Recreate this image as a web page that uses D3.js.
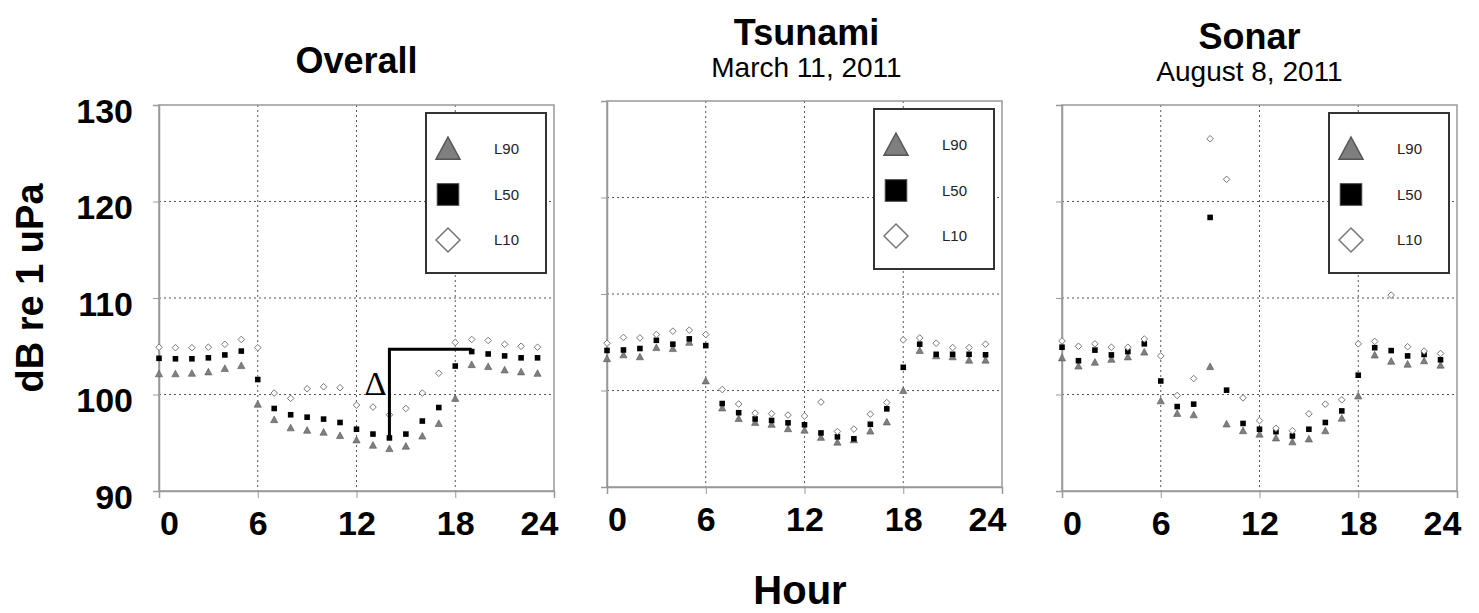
<!DOCTYPE html>
<html>
<head>
<meta charset="utf-8">
<script src="https://cdn.jsdelivr.net/npm/d3@7"></script>
<style>
  body { margin: 0; background: #fff; }
  text { font-family: "Liberation Sans", Arial, sans-serif; }
</style>
</head>
<body>
<div id="chart"></div>
<script>
var hours = [0,1,2,3,4,5,6,7,8,9,10,11,12,13,14,15,16,17,18,19,20,21,22,23];
var xTicks = [0, 6, 12, 18, 24];
var yTicks = [90, 100, 110, 120, 130];
var seriesNames = ["L90", "L50", "L10"];

// Overall
var overallL90 = [102.15,102.15,102.2,102.35,102.7,103.0,99.0,97.4,96.55,96.3,96.1,95.75,95.3,94.75,94.4,94.65,95.7,97.0,99.6,103.1,102.9,102.55,102.35,102.2];
var overallL50 = [103.75,103.7,103.7,103.8,104.1,104.5,101.55,98.55,97.9,97.65,97.45,97.1,96.4,95.9,95.5,95.9,97.25,98.65,102.95,104.45,104.2,104.0,103.8,103.8];
var overallL10 = [104.9,104.85,104.85,104.9,105.2,105.7,104.85,100.15,99.6,100.6,100.8,100.7,98.9,98.7,97.9,98.55,100.15,102.2,105.4,105.7,105.6,105.2,105.0,104.9];

// Tsunami, March 11, 2011
var tsunamiL90 = [103.3,103.7,103.5,104.45,104.35,105.0,101.0,98.2,97.1,96.7,96.5,96.05,95.9,95.15,94.65,94.9,95.8,96.75,100.0,104.15,103.6,103.5,103.15,103.15];
var tsunamiL50 = [104.15,104.2,104.35,105.2,104.8,105.35,104.65,98.65,97.7,97.05,96.9,96.65,96.45,95.6,95.2,95.0,96.5,98.1,102.4,104.8,103.75,103.75,103.75,103.7];
var tsunamiL10 = [104.9,105.5,105.45,105.8,106.15,106.25,105.8,100.1,98.6,97.65,97.6,97.45,97.35,98.8,95.75,96.0,97.55,98.75,105.25,105.45,104.9,104.45,104.45,104.8];

// Sonar, August 8, 2011
var sonarL90 = [103.8,102.95,103.35,103.65,103.9,104.4,99.35,98.05,97.9,102.9,96.95,96.25,95.9,95.5,95.1,95.4,96.25,97.55,99.85,104.1,103.45,103.15,103.5,103.05];
var sonarL50 = [104.9,103.5,104.6,104.1,104.45,105.25,101.4,98.75,99.0,118.35,100.45,97.0,96.4,96.15,95.7,96.4,97.1,98.3,102.0,104.85,104.55,104.0,104.15,103.6];
var sonarL10 = [105.55,105.0,105.25,104.9,104.9,105.75,104.0,99.9,101.65,126.5,122.3,99.65,97.3,96.5,96.25,98.0,99.0,99.45,105.25,105.5,110.3,104.95,104.5,104.25];

// delta annotation on the Overall panel
var deltaFrom = 14, deltaTo = 19, deltaLevel = 104.7;

var width = 1479, height = 613;
var plotW = 395, plotH = 386;

var panels = [
    {title: "Overall", sub: null, left: 159, top: 105, titleDx: 0, series: [overallL90, overallL50, overallL10]},
    {title: "Tsunami", sub: "March 11, 2011", left: 607, top: 101, titleDx: 2, series: [tsunamiL90, tsunamiL50, tsunamiL10]},
    {title: "Sonar", sub: "August 8, 2011", left: 1062, top: 105, titleDx: -10, series: [sonarL90, sonarL50, sonarL10]}
];

var triColor = "#7f7f7f";
var frameColor = "#999";
var gridColor = "#555";

var svg = d3.select("#chart").append("svg")
    .attr("width", width)
    .attr("height", height);

function marker(sel, type, s) {
    // s = half size
    if (type === "L90") {
        sel.append("path")
            .attr("d", "M0," + (-s) + "L" + s + "," + (s * 0.85) + "L" + (-s) + "," + (s * 0.85) + "Z")
            .attr("fill", triColor).attr("stroke", "#555").attr("stroke-width", s > 5 ? 1.5 : 0.6);
    } else if (type === "L50") {
        sel.append("rect")
            .attr("x", -s * 0.9).attr("y", -s * 0.9)
            .attr("width", s * 1.8).attr("height", s * 1.8)
            .attr("fill", "#000").attr("stroke", s > 5 ? "#444" : "none");
    } else {
        sel.append("path")
            .attr("d", "M0," + (-s) + "L" + s + ",0L0," + s + "L" + (-s) + ",0Z")
            .attr("fill", "#fff").attr("stroke", "#777").attr("stroke-width", s > 5 ? 1.5 : 1);
    }
}

panels.forEach(function (p, pi) {
    var x = d3.scaleLinear().domain([0, 24]).range([0, plotW]);
    var y = d3.scaleLinear().domain([90, 130]).range([plotH, 0]);

    var g = svg.append("g")
        .attr("transform", "translate(" + p.left + "," + p.top + ")");

    // grid
    g.selectAll(".hgrid")
        .data(yTicks.slice(1, -1))
        .enter().append("line")
        .attr("x1", 0).attr("x2", plotW)
        .attr("y1", d => y(d)).attr("y2", d => y(d))
        .attr("stroke", gridColor).attr("stroke-width", 1)
        .attr("stroke-dasharray", "2,3");
    g.selectAll(".vgrid")
        .data(xTicks.slice(1, -1))
        .enter().append("line")
        .attr("y1", 0).attr("y2", plotH)
        .attr("x1", d => x(d)).attr("x2", d => x(d))
        .attr("stroke", gridColor).attr("stroke-width", 1)
        .attr("stroke-dasharray", "2,3");

    // frame
    g.append("rect")
        .attr("width", plotW).attr("height", plotH)
        .attr("fill", "none").attr("stroke", frameColor).attr("stroke-width", 1.5);

    // axes
    var yAxis = d3.axisLeft(y).tickValues(yTicks).tickSize(6).tickFormat(d => pi === 0 ? d : "");
    var xAxis = d3.axisBottom(x).tickValues(xTicks).tickSize(7).tickPadding(13);

    var ya = g.append("g").call(yAxis);
    ya.select(".domain").attr("stroke", frameColor).attr("stroke-width", 1.5);
    ya.selectAll(".tick line").attr("stroke", frameColor);
    ya.selectAll("text")
        .style("font-size", "34px").style("font-weight", "bold")
        .attr("fill", "#000").attr("x", -26).attr("dy", "0.5em");

    var xa = g.append("g").attr("transform", "translate(0," + plotH + ")").call(xAxis);
    xa.select(".domain").attr("stroke", frameColor).attr("stroke-width", 1.5);
    xa.selectAll(".tick line").attr("stroke", frameColor);
    xa.selectAll("text")
        .style("font-size", "34px").style("font-weight", "bold")
        .attr("fill", "#000")
        .attr("dx", (d, i) => i === 0 ? 10 : (i === xTicks.length - 1 ? -15 : 0));

    // legend
    var lg = g.append("g").attr("transform", "translate(" + (plotW - 128) + ",8)");
    lg.append("rect").attr("width", 120).attr("height", 160)
        .attr("fill", "#fff").attr("stroke", "#333").attr("stroke-width", 2);
    seriesNames.forEach(function (name, i) {
        var row = lg.append("g").attr("transform", "translate(22," + (36 + i * 45.5) + ")");
        marker(row, name, 12);
        row.append("text").attr("x", 46).attr("dy", "0.35em")
            .style("font-size", "15px").attr("fill", "#222").text(name);
    });

    // points
    p.series.forEach(function (vals, si) {
        g.selectAll(".pt" + si)
            .data(vals)
            .enter().append("g")
            .attr("transform", (d, i) => "translate(" + x(hours[i]) + "," + y(d) + ")")
            .each(function () { marker(d3.select(this), seriesNames[si], si === 0 ? 3.6 : (si === 1 ? 3.1 : 3.3)); });
    });

    // delta annotation
    if (pi === 0) {
        g.append("path")
            .attr("d", "M" + x(deltaFrom) + "," + y(overallL50[deltaFrom]) +
                "L" + x(deltaFrom) + "," + y(deltaLevel) +
                "L" + x(deltaTo) + "," + y(deltaLevel))
            .attr("fill", "none").attr("stroke", "#000").attr("stroke-width", 3);
        g.append("text")
            .attr("x", x(deltaFrom) - 3).attr("y", y(100))
            .attr("text-anchor", "end")
            .style("font-family", "'Liberation Serif', 'Times New Roman', serif")
            .style("font-size", "34px").text("\u0394");
    }

    // titles
    var cx = plotW / 2 + p.titleDx;
    if (p.sub) {
        g.append("text").attr("x", cx).attr("y", -56)
            .attr("text-anchor", "middle")
            .style("font-size", "36px").style("font-weight", "bold").text(p.title);
        g.append("text").attr("x", cx).attr("y", -24)
            .attr("text-anchor", "middle")
            .style("font-size", "28px").text(p.sub);
    } else {
        g.append("text").attr("x", cx).attr("y", -32)
            .attr("text-anchor", "middle")
            .style("font-size", "36px").style("font-weight", "bold").text(p.title);
    }
});

svg.append("text")
    .attr("transform", "translate(43,288) rotate(-90)")
    .attr("text-anchor", "middle")
    .style("font-size", "38px").style("font-weight", "bold")
    .text("dB re 1 uPa");

svg.append("text")
    .attr("x", 800).attr("y", 604)
    .attr("text-anchor", "middle")
    .style("font-size", "40px").style("font-weight", "bold")
    .text("Hour");
</script>
</body>
</html>
